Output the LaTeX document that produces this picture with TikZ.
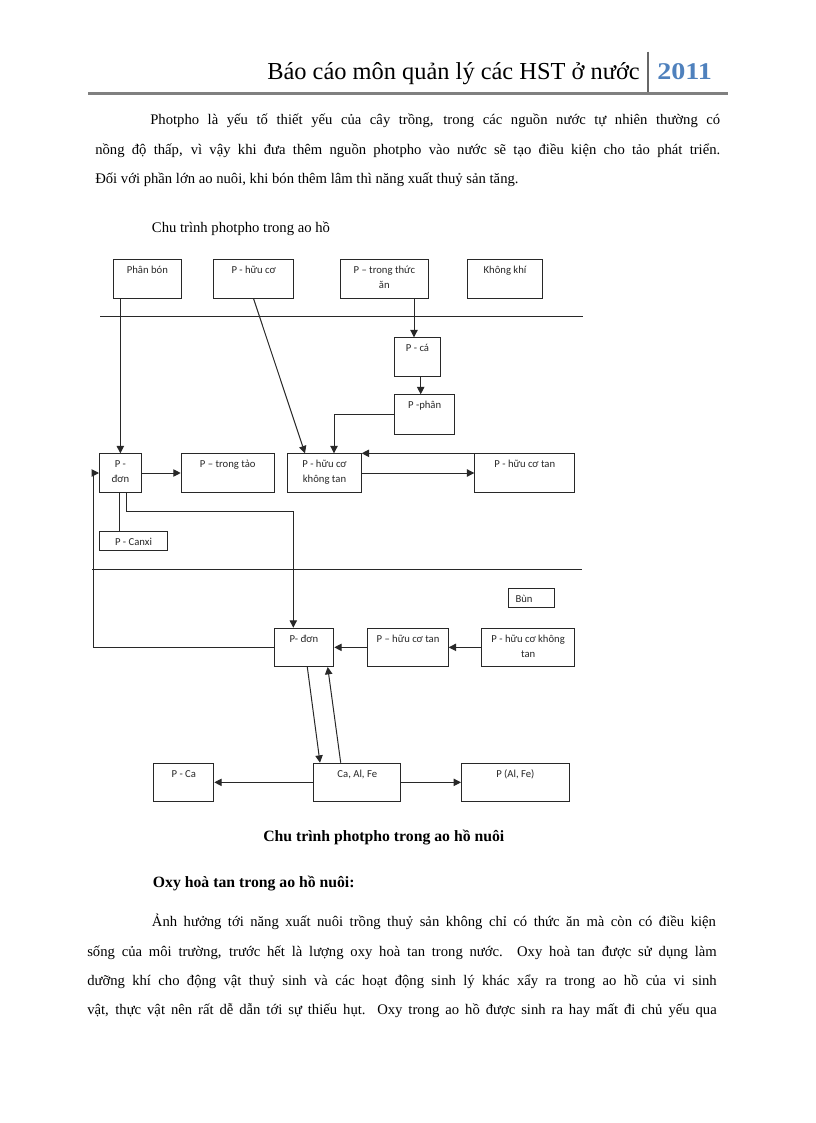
\documentclass[tikz,border=0pt]{standalone}
\usepackage{fontspec}
\setmainfont{Liberation Serif}
\newfontfamily\boxfont{Carlito}
\usetikzlibrary{arrows.meta,calc}
\definecolor{hdrblue}{RGB}{79,129,189}
\definecolor{hdrgray}{RGB}{128,128,128}
\definecolor{ink}{RGB}{40,40,40}
\newlength{\boxbase}
\setlength{\boxbase}{10.5pt}
\newcommand{\dbx}[6]{%
  \pgfmathsetmacro\bw{(#4-#2)*0.75}%
  \pgfmathsetmacro\bh{(#5-#3)*0.75}%
  \node[boxst] (#1) at (#2,#3) {\parbox[t][\bh pt][t]{\bw pt}{\centering\rule{0pt}{\boxbase}#6}};}
\begin{document}
\begin{tikzpicture}[x=0.75pt,y=-0.75pt,
  boxst/.style={draw=ink, line width=0.75pt, inner sep=0pt, anchor=north west,
    font=\boxfont\fontsize{8}{11.25}\selectfont, text=ink},
  arr/.style={draw=ink, line width=0.75pt, -{Triangle[length=5.5pt,width=5.5pt]}},
  ln/.style={draw=ink, line width=0.75pt},
  body/.style={inner sep=0pt, anchor=base west, font=\fontsize{11}{13}\selectfont},
  bodyb/.style={inner sep=0pt, font=\fontsize{11.8}{14}\selectfont\bfseries}]
\useasboundingbox (0,0) rectangle (816,1123);
\fill[white] (0,0) rectangle (816,1123);

% header
\node[inner sep=0pt, anchor=base east, font=\fontsize{18.3}{20}\selectfont] (title) at (640,80) {Báo cáo môn quản lý các HST ở nước};
\node[inner sep=0pt, anchor=base west, font=\fontsize{18}{20}\selectfont\bfseries, text=hdrblue] (year) at (657,80) {\scalebox{1.17}[1]{2011}};
\draw[hdrgray!80!black, line width=0.9pt] (648,51.7) -- (648,92.3);
\draw[hdrgray, line width=2pt] (88,93.3) -- (728,93.3);

% first paragraph
\node[body] (p1a) at (150,125) {\makebox[427.5pt][s]{Photpho là yếu tố thiết yếu của cây trồng, trong các nguồn nước tự nhiên thường có}};
\node[body] (p1b) at (95,155) {\makebox[468.75pt][s]{nồng độ thấp, vì vậy khi đưa thêm nguồn photpho vào nước sẽ tạo điều kiện cho tảo phát triển.}};
\node[body] (p1c) at (95,184) {Đối với phần lớn ao nuôi, khi bón thêm lâm thì năng xuất thuỷ sản tăng.};
\node[body] (p1d) at (151.7,233) {Chu trình photpho trong ao hồ};

% separators
\draw[ln] (100,316.7) -- (582.7,316.7);
\draw[ln] (92.3,569) -- (581.7,569);

% boxes
\dbx{pb}{112.7}{259.3}{181}{298}{Phân bón}
\dbx{phc}{213.3}{259.3}{293}{298}{P - hữu cơ}
\dbx{pta}{340}{259.3}{427.7}{298}{P – trong thức\\ăn}
\dbx{kk}{467.3}{259.3}{541.7}{298}{Không khí}
\dbx{pca}{394}{337.3}{440}{376}{P - cá}
\dbx{pph}{394}{394.3}{454.3}{434}{P -phân}
\dbx{pdon1}{99}{453.3}{140.7}{491.7}{P -\\đơn}
\dbx{ptt}{180.7}{453.3}{273.7}{491.7}{P – trong tảo}
\dbx{phckt1}{287.3}{453.3}{360.7}{491.7}{P - hữu cơ\\không tan}
\dbx{phct1}{474.3}{453.3}{574.3}{491.7}{P - hữu cơ tan}
\dbx{pcanxi}{99.3}{530.7}{166.7}{550}{P - Canxi}
\dbx{bun}{507.7}{588.3}{554.3}{607.3}{\raggedright\hspace*{5.5pt}Bùn}
\dbx{pdon2}{273.7}{627.7}{333.3}{666}{P- đơn}
\dbx{phct2}{367.3}{627.7}{447.7}{666}{P – hữu cơ tan}
\dbx{phckt2}{481}{627.7}{574.3}{666}{P - hữu cơ không\\tan}
\dbx{pcal}{153.3}{762.7}{213.3}{801}{P - Ca}
\dbx{cafe}{313.3}{762.7}{400.3}{801}{Ca, Al, Fe}
\dbx{palfe}{461}{762.7}{568.7}{801}{P (Al, Fe)}

% helper coordinates
\coordinate (c1) at ($(pca.north west)+(20,0)$);
\coordinate (c2) at ($(pph.north west)+(26.7,0)$);
\coordinate (c3) at ($(phckt1.north west)+(46.7,0)$);
\coordinate (c4) at ($(pdon1.south west)+(20.3,0)$);
\coordinate (c5) at ($(pdon1.south west)+(27,0)$);
\coordinate (c6) at ($(pdon2.north west)+(19.6,0)$);
\coordinate (c7) at ($(pdon1.west)+(-5.7,0)$);
\coordinate (c8) at ($(pdon2.south west)+(33.6,0)$);
\coordinate (c9) at ($(cafe.north west)+(6.7,0)$);
\coordinate (c10) at ($(cafe.north west)+(27.4,0)$);
\coordinate (c11) at ($(pdon2.south west)+(54,0)$);
\coordinate (c12) at ($(phckt1.north west)+(17.7,0)$);

% connectors
\draw[arr] (pb.south -| pdon1.north) -- (pdon1.north);
\draw[arr] (phc.south) -- (c12);
\draw[arr] (c1 |- pta.south) -- (c1);
\draw[arr] (c2 |- pca.south) -- (c2);
\draw[arr] (pph.west) -| (c3);
\draw[arr] (pdon1.east) -- (ptt.west);
\draw[arr] (phckt1.east) -- (phct1.west);
\draw[arr] (phct1.north west) -- (phckt1.north east);
\draw[ln] (c4) -- (c4 |- pcanxi.north);
\draw[arr] (c5) -- ++(0,19) -| (c6);
\draw[arr] (pdon2.west) -| (c7) -- (pdon1.west);
\draw[arr] (phct2.west) -- (pdon2.east);
\draw[arr] (phckt2.west) -- (phct2.east);
\draw[arr] (c8) -- (c9);
\draw[arr] (c10) -- (c11);
\draw[arr] (cafe.west) -- (pcal.east);
\draw[arr] (cafe.east) -- (palfe.west);

% caption and second section
\node[bodyb, anchor=base] (cap) at (383.8,841) {Chu trình photpho trong ao hồ nuôi};
\node[bodyb, anchor=base west] (oxy) at (152.7,887) {Oxy hoà tan trong ao hồ nuôi:};
\node[body] (p2a) at (151.7,926) {\makebox[423pt][s]{Ảnh hưởng tới năng xuất nuôi trồng thuỷ sản không chỉ có thức ăn mà còn có điều kiện}};
\node[body] (p2b) at (87,956) {\makebox[472.1pt][s]{sống của môi trường, trước hết là lượng oxy hoà tan trong nước. Oxy hoà tan được sử dụng làm}};
\node[body] (p2c) at (87,985) {\makebox[472.1pt][s]{dưỡng khí cho động vật thuỷ sinh và các hoạt động sinh lý khác xẩy ra trong ao hồ của vi sinh}};
\node[body] (p2d) at (87,1014) {\makebox[472.1pt][s]{vật, thực vật nên rất dễ dẫn tới sự thiếu hụt. Oxy trong ao hồ được sinh ra hay mất đi chủ yếu qua}};
\end{tikzpicture}
\end{document}
